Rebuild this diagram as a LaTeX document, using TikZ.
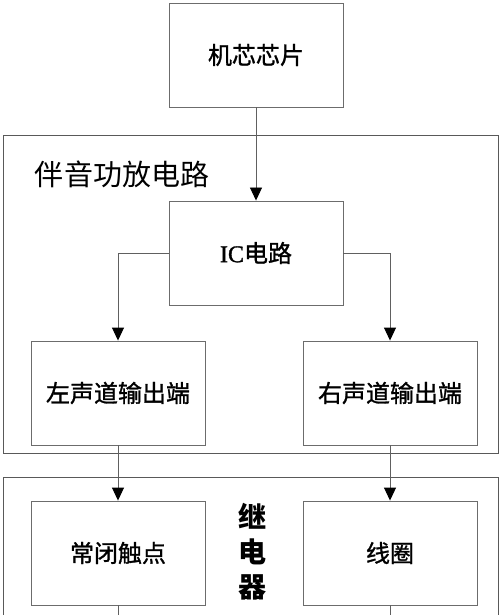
\documentclass[tikz,border=0pt]{standalone}
\usepackage{fontspec}
\setmainfont{Noto Sans CJK SC}
\newfontfamily\boxfont[FakeBold=1.2]{Noto Sans CJK SC}
\newfontfamily\latinserif[FakeBold=1.2]{Liberation Serif}
\usetikzlibrary{arrows.meta}
\begin{document}
\begin{tikzpicture}[x=1bp,y=-1bp,
  box/.style={draw=gray!85!black, line width=0.9bp, minimum width=174bp, minimum height=104bp, inner sep=0pt, font=\boxfont\fontsize{24bp}{28bp}\selectfont},
  group/.style={draw=gray!70!black, line width=1bp, inner sep=0pt, anchor=north west},
  conn/.style={draw=gray!75!black, line width=0.9bp},
  arr/.style={conn, -{Triangle[width=12bp,length=13bp,color=black]}}
]
\useasboundingbox[fill=white] (0,0) rectangle (500,615);
\begin{scope}
\clip (0,0) rectangle (500,615);
% groups
\node[group, minimum width=495bp, minimum height=318bp] (amp) at (3,135) {};
\node[group, minimum width=495bp, minimum height=160bp] (relay) at (3,477) {};
\node[anchor=center, font=\fontsize{29bp}{32bp}\selectfont] (amptitle) at (122,174) {伴音功放电路};
\node[align=center, font=\fontsize{28bp}{35bp}\selectfont\bfseries] (relaytitle) at (252,552) {继\\电\\器};
% boxes
\node[box] (chip) at (256,55) {机芯芯片};
\node[box] (ic) at (256,253) {{\latinserif IC}电路};
\node[box] (lout) at (118,393) {左声道输出端};
\node[box] (rout) at (390,393) {右声道输出端};
\node[box] (nc) at (118,553) {常闭触点};
\node[box] (coil) at (390,553) {线圈};
\coordinate (ncend) at (118,630);
\coordinate (coilend) at (390,630);
% connectors
\draw[arr] (chip) -- (ic);
\draw[arr] (ic.west) -| (lout.north);
\draw[arr] (ic.east) -| (rout.north);
\draw[arr] (lout) -- (nc);
\draw[arr] (rout) -- (coil);
\draw[conn] (nc) -- (ncend);
\draw[conn] (coil) -- (coilend);
\end{scope}
\end{tikzpicture}
\end{document}
